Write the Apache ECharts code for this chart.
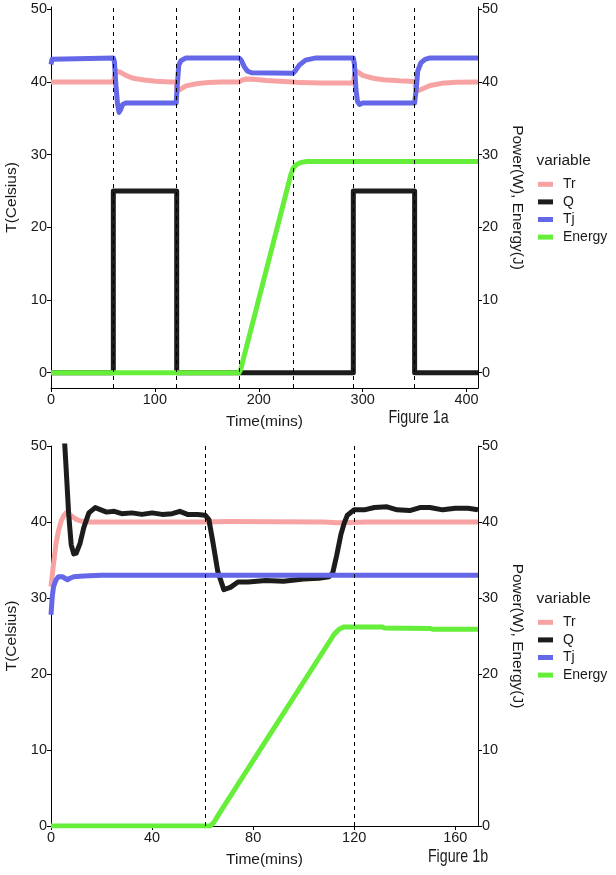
<!DOCTYPE html>
<html><head><meta charset="utf-8">
<script src="https://cdn.jsdelivr.net/npm/echarts@6/dist/echarts.min.js"></script>
<style>html,body{margin:0;padding:0;background:#fff}#c{width:616px;height:875px}</style>
</head><body><div id="c"></div>
<script>
// ---------- data ----------
const seriesNames = ['Tr', 'Q', 'Tj', 'Energy'];
const seriesColors = ['#F8A3A3', '#1C1C1C', '#6468E8', '#66EE3A'];
const yTicks = [0, 10, 20, 30, 40, 50];
const topXTicks = [0, 100, 200, 300, 400];
const bottomXTicks = [0, 40, 80, 120, 160];
const topEvents = [60, 121, 181, 233, 291, 350];
const bottomEvents = [61, 120];

// Figure 1a  [time(min), value]
const topTr = [[0,40],[60,40],[61,40.6],[62.5,41.5],[64,41.7],[67,41.3],[72,40.9],[79,40.5],[90,40.25],[101,40.1],[115,40.0],[120.5,40.0],[121,39.2],[121.5,38.75],[124,38.95],[130,39.45],[140,39.75],[150,39.9],[165,40.0],[181,40.0],[184,40.25],[188,40.4],[195,40.35],[207,40.2],[220,40.1],[233,40.0],[240,39.9],[260,39.85],[291,39.85],[292,40.8],[293.5,41.5],[296,41.3],[300,40.9],[310,40.5],[320,40.3],[335,40.15],[350,40.05],[351,39.2],[352,38.75],[356,38.95],[365,39.5],[376,39.8],[390,39.95],[411,40.0]];
const topQ = [[0,0],[60,0],[60,25],[121,25],[121,0],[291,0],[291,25],[350,25],[350,0],[411,0]];
const topTj = [[0,42.4],[1,43.1],[2.5,43.3],[60,43.3],[61,42.8],[62.5,39.5],[64,37.0],[65.5,35.8],[67,36.2],[69,36.9],[72,37.1],[120.5,37.1],[121.5,39.5],[123,42.3],[125,42.9],[130,43.3],[181,43.3],[183,43.0],[186,42.1],[189,41.5],[193,41.25],[233,41.2],[235,41.5],[239,42.3],[245,43.0],[255,43.3],[291,43.3],[292,42.5],[293.5,39.0],[295,37.3],[297,36.9],[300,37.1],[350,37.1],[351.5,39.0],[353,41.5],[356,42.6],[360,43.1],[365,43.3],[411,43.3]];
const topEnergy = [[0,0],[181,0],[182.5,0.4],[185,1.8],[231,27.3],[233,28.1],[236,28.6],[240,28.9],[246,29.05],[411,29.05]];

// Figure 1b
const botTr = [[0,31.5],[1,34.5],[2,37.2],[3,38.9],[4,40.1],[5,40.8],[6,41.2],[7,41.1],[8.5,40.7],[10,40.35],[12,40.1],[15,40.0],[60,40.0],[70,40.05],[108,40.0],[113,39.9],[118,39.95],[125,40.0],[169,40.0]];
const botQ = [[5.3,51],[6,47],[7,41],[8,37],[9,35.8],[10,35.9],[11.5,37.2],[13,39.3],[15,41.2],[17.5,41.9],[19,41.7],[22,41.3],[25,41.4],[28,41.1],[32,41.2],[36,41.0],[40,41.2],[44,41.0],[48,41.1],[51,41.4],[54,41.0],[58,41.0],[61,40.9],[62.5,40.3],[64,37.5],[66,33.5],[68.4,31.1],[71,31.4],[74,32.1],[78,32.1],[85,32.3],[92,32.2],[100,32.5],[106,32.6],[110,32.8],[111.5,33.3],[113,35.5],[114.7,38.3],[116,39.8],[117.3,40.9],[120,41.6],[124,41.6],[128,41.9],[133,42.0],[137,41.6],[142,41.5],[146,41.9],[150,41.9],[155,41.6],[160,41.8],[165,41.8],[169,41.6]];
const botTj = [[0,27.8],[0.5,30.2],[1,31.5],[2,32.4],[3,32.8],[4.5,32.8],[5.5,32.6],[6.5,32.4],[7.5,32.6],[9,32.8],[13,32.9],[20,33.0],[169,33.0]];
const botEnergy = [[0,0],[63,0],[64.5,0.5],[66.5,1.6],[112,25.2],[114,25.9],[116,26.2],[131,26.2],[132,26.05],[150,26.0],[151,25.9],[169,25.9]];

// ---------- chart ----------
const FONT = '"Liberation Sans", Arial, sans-serif';
const TXT = '#1a1a1a';
const chart = echarts.init(document.getElementById('c'), null, {renderer: 'canvas'});

function xAx(gi, max, ticks) {
  return {
    gridIndex: gi, type: 'value', min: 0, max: max,
    name: 'Time(mins)', nameLocation: 'middle', nameGap: 26,
    nameTextStyle: {fontSize: 15.5, color: TXT, fontFamily: FONT},
    axisLine: {show: true, onZero: false, lineStyle: {color: '#000', width: 1}},
    axisTick: {show: true, length: 4, customValues: ticks, lineStyle: {color: '#000'}},
    axisLabel: {customValues: ticks, fontSize: 14.5, color: TXT, fontFamily: FONT, margin: 4},
    splitLine: {show: false}
  };
}
function yAx(gi, min, max, pos) {
  const o = {
    gridIndex: gi, type: 'value', min: min, max: max, position: pos,
    nameLocation: 'middle',
    nameTextStyle: {fontSize: 15.5, color: TXT, fontFamily: FONT},
    axisLine: {show: true, onZero: false, lineStyle: {color: '#000', width: 1}},
    axisTick: {show: true, length: 4, customValues: yTicks, lineStyle: {color: '#000'}},
    axisLabel: {customValues: yTicks, fontSize: 14.5, color: TXT, fontFamily: FONT, margin: 4},
    splitLine: {show: false}
  };
  if (pos === 'left') { o.name = 'T(Celsius)'; o.nameRotate = 90; o.nameGap = 29; }
  else { o.name = 'Power(W), Energy(J)'; o.nameRotate = -90; o.nameGap = 17; }
  return o;
}
function line(name, idx, data, xi, yi) {
  return {
    name: name, type: 'line', data: data, xAxisIndex: xi, yAxisIndex: yi,
    showSymbol: false, symbol: 'none', smooth: false, z: 3, clip: true,
    lineStyle: {color: seriesColors[idx], width: 5, join: 'round'},
    itemStyle: {color: seriesColors[idx]}
  };
}
function events(vals, xi, yi) {
  return {
    type: 'line', data: [], xAxisIndex: xi, yAxisIndex: yi, z: 1, silent: true,
    markLine: {silent: true, symbol: ['none', 'none'], label: {show: false},
      lineStyle: {color: '#000', type: [4, 4], width: 1}, emphasis: {disabled: true},
      data: vals.map(v => ({xAxis: v}))}
  };
}
function legend(top) {
  return {
    orient: 'vertical', left: 538, top: top, itemWidth: 15, itemHeight: 5, itemGap: 0,
    icon: 'rect', selectedMode: false, padding: 0,
    data: seriesNames,
    itemStyle: {borderWidth: 0},
    textStyle: {fontSize: 14, color: TXT, fontFamily: FONT, lineHeight: 17.6, padding: [0, 0, 0, 5]}
  };
}

const topData = [topTr, topQ, topTj, topEnergy];
const botData = [botTr, botQ, botTj, botEnergy];

const series = [events(topEvents, 0, 0), events(bottomEvents, 1, 2)];
seriesNames.forEach((n, i) => series.push(line(n, i, topData[i], 0, n === 'Energy' ? 1 : 0)));
seriesNames.forEach((n, i) => series.push(line(n, i, botData[i], 1, n === 'Energy' ? 3 : 2)));

const figFont = '19px "Liberation Sans", Arial';
chart.setOption({
  animation: false,
  backgroundColor: '#fff',
  grid: [
    {left: 51, right: 138, top: 7, bottom: 487, containLabel: false, outerBoundsMode: 'none'},
    {left: 51, right: 138, top: 446, bottom: 49, containLabel: false, outerBoundsMode: 'none'}
  ],
  xAxis: [xAx(0, 411, topXTicks), xAx(1, 169, bottomXTicks)],
  yAxis: [yAx(0, -2.1, 50.3, 'left'), yAx(0, -2.1, 50.3, 'right'), yAx(1, 0, 50, 'left'), yAx(1, 0, 50, 'right')],
  legend: [legend(175.5), legend(613.5)],
  graphic: [
    {type: 'text', style: {text: 'variable', x: 536.5, y: 161, fill: TXT, font: '15.5px ' + FONT, verticalAlign: 'middle'}},
    {type: 'text', style: {text: 'variable', x: 536.5, y: 599, fill: TXT, font: '15.5px ' + FONT, verticalAlign: 'middle'}},
    {type: 'text', x: 418.5, y: 418, scaleX: 0.75, style: {text: 'Figure 1a', x: 0, y: 0, fill: TXT, font: figFont, align: 'center', verticalAlign: 'middle'}},
    {type: 'text', x: 458, y: 857, scaleX: 0.75, style: {text: 'Figure 1b', x: 0, y: 0, fill: TXT, font: figFont, align: 'center', verticalAlign: 'middle'}}
  ],
  series: series
});
</script>
</body></html>
